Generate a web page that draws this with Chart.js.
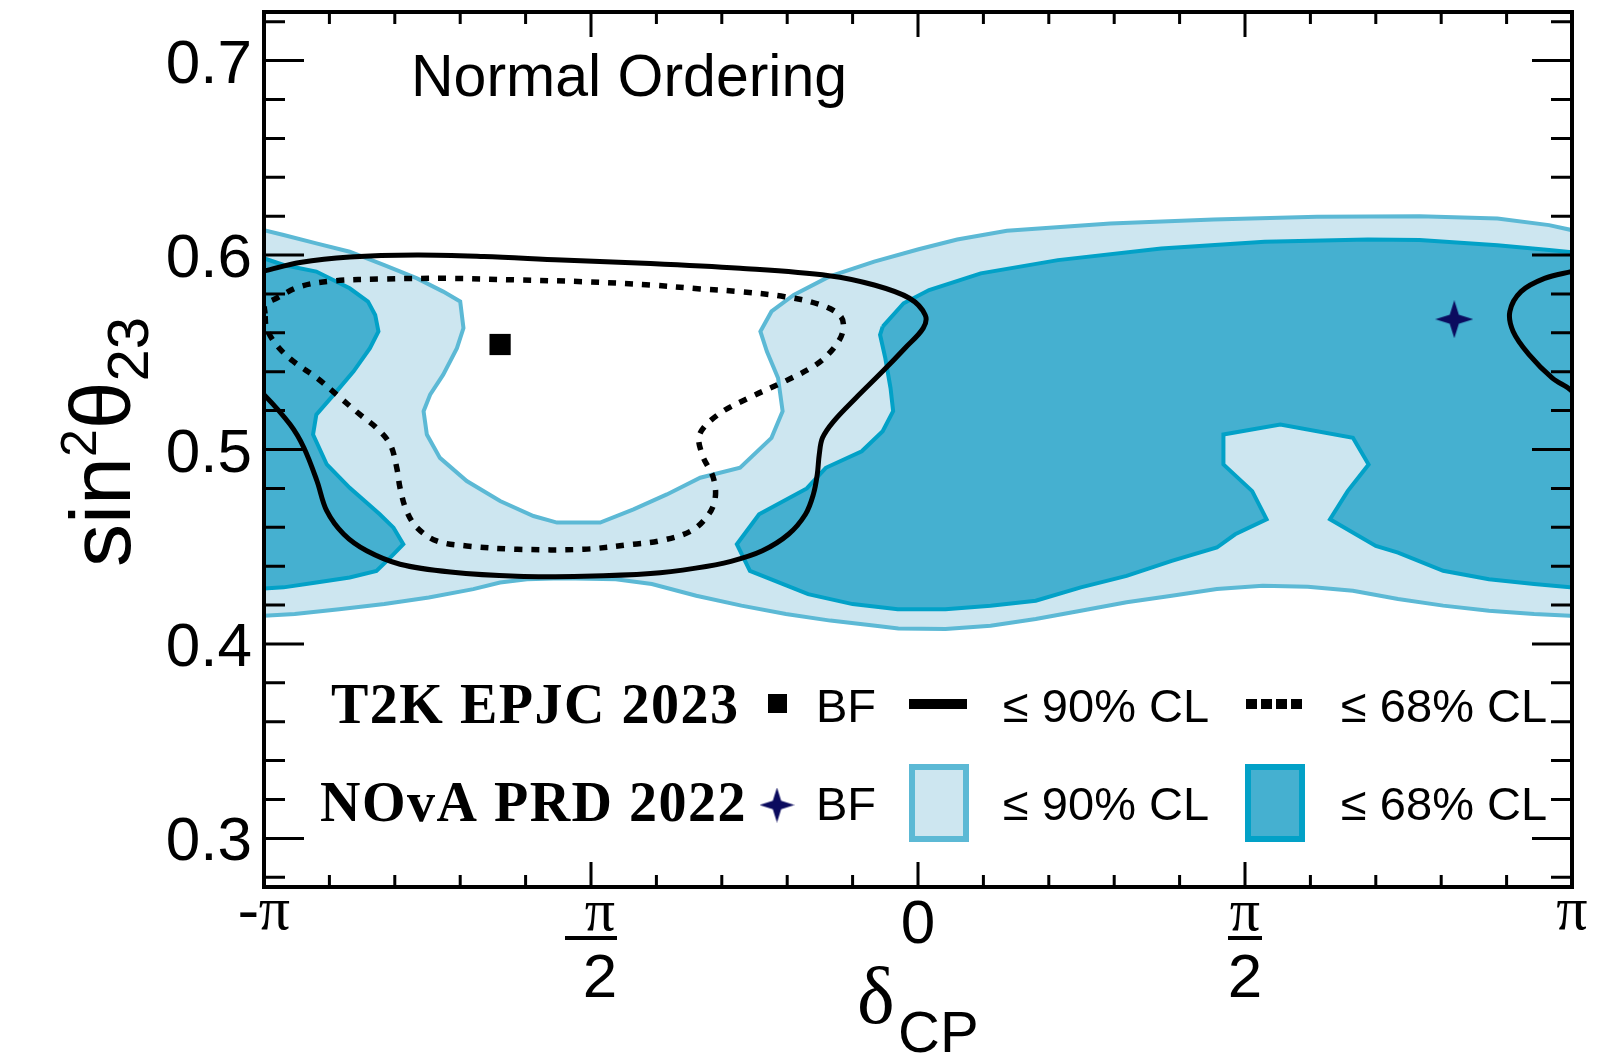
<!DOCTYPE html>
<html>
<head>
<meta charset="utf-8">
<script src="https://cdn.jsdelivr.net/npm/chart.js@4.4.1/dist/chart.umd.min.js"></script>
<style>
  html, body { margin: 0; padding: 0; background: #fff; }
  canvas { display: block; }
</style>
</head>
<body>
<canvas id="chart" width="1610" height="1060"></canvas>
<script>
// x = delta_CP in units of pi, y = sin^2(theta_23)
const xTickValues = [-1, -0.5, 0, 0.5, 1];
const xTickLabels = ['-π', '-π/2', '0', 'π/2', 'π'];
const yTickValues = [0.3, 0.4, 0.5, 0.6, 0.7];
const yTickLabels = ['0.3', '0.4', '0.5', '0.6', '0.7'];

const t2kBestFit  = [[-0.639, 0.554]];
const novaBestFit = [[0.82, 0.567]];

// T2K 90% CL (solid), wraps round at +-pi
const t2k90Left = [
  [-1.045, 0.5885], [-1.0, 0.5918], [-0.945, 0.5962], [-0.869, 0.599], [-0.766, 0.600],
  [-0.664, 0.5992], [-0.545, 0.5974], [-0.409, 0.5957], [-0.272, 0.5932], [-0.136, 0.5894],
  [-0.067, 0.5846], [-0.013, 0.5778], [0.011, 0.5692], [0.008, 0.5624], [-0.020, 0.5521],
  [-0.054, 0.5402], [-0.095, 0.5265], [-0.129, 0.5145], [-0.146, 0.506], [-0.151, 0.4974],
  [-0.154, 0.4872], [-0.160, 0.4769], [-0.172, 0.4667], [-0.198, 0.4564], [-0.238, 0.4479],
  [-0.286, 0.4425], [-0.340, 0.439], [-0.409, 0.4362], [-0.511, 0.4348], [-0.613, 0.4348],
  [-0.715, 0.437], [-0.792, 0.441], [-0.843, 0.4479], [-0.878, 0.4564], [-0.904, 0.4684],
  [-0.919, 0.4838], [-0.939, 0.5009], [-0.960, 0.5128], [-1.0, 0.5282], [-1.03, 0.537],
];
const t2k90Right = [
  [1.055, 0.5962], [1.0, 0.5916], [0.958, 0.588], [0.922, 0.5812], [0.905, 0.571],
  [0.910, 0.5607], [0.934, 0.5489], [0.970, 0.5367], [1.0, 0.530], [1.04, 0.5128],
];

// T2K 68% CL (dotted)
const t2k68 = [
  [-0.9985, 0.570], [-0.9985, 0.5744], [-0.981, 0.5778], [-0.945, 0.5838], [-0.894, 0.5867],
  [-0.817, 0.5877], [-0.715, 0.588], [-0.613, 0.5872], [-0.511, 0.5863], [-0.409, 0.5846],
  [-0.333, 0.5826], [-0.272, 0.5812], [-0.204, 0.5786], [-0.149, 0.5744], [-0.118, 0.5684],
  [-0.115, 0.5607], [-0.129, 0.5521], [-0.156, 0.5436], [-0.204, 0.535], [-0.259, 0.5265],
  [-0.306, 0.5179], [-0.334, 0.5077], [-0.330, 0.4974], [-0.313, 0.4855], [-0.310, 0.4752],
  [-0.320, 0.4667], [-0.347, 0.4581], [-0.395, 0.453], [-0.435, 0.4513], [-0.511, 0.4487],
  [-0.613, 0.4487], [-0.690, 0.4504], [-0.736, 0.453], [-0.766, 0.4598], [-0.782, 0.4684],
  [-0.792, 0.4803], [-0.797, 0.4906], [-0.807, 0.5026], [-0.828, 0.5111], [-0.853, 0.5179],
  [-0.889, 0.5282], [-0.919, 0.5368], [-0.955, 0.5453], [-0.981, 0.5538], [-0.996, 0.5624],
  [-0.9985, 0.570],
];

// NOvA 90% CL region
const nova90 = [
  [-1.05, 0.615], [-1.0, 0.6128], [-0.970, 0.6103], [-0.920, 0.606], [-0.869, 0.6017],
  [-0.817, 0.5949], [-0.766, 0.588], [-0.726, 0.5812], [-0.700, 0.5761], [-0.695, 0.5624],
  [-0.705, 0.5521], [-0.726, 0.5385], [-0.746, 0.5282], [-0.756, 0.5197], [-0.751, 0.5077],
  [-0.731, 0.4957], [-0.690, 0.4838], [-0.639, 0.4735], [-0.588, 0.4658], [-0.552, 0.4624],
  [-0.486, 0.4624], [-0.435, 0.4692], [-0.384, 0.4769], [-0.333, 0.4855], [-0.272, 0.4906],
  [-0.224, 0.506], [-0.207, 0.5197], [-0.214, 0.5368], [-0.231, 0.5504], [-0.241, 0.5607],
  [-0.224, 0.571], [-0.190, 0.5795], [-0.136, 0.5889], [-0.067, 0.5966], [0.001, 0.603],
  [0.060, 0.608], [0.136, 0.6125], [0.294, 0.6162], [0.452, 0.6183], [0.610, 0.6197],
  [0.767, 0.620], [0.886, 0.6188], [0.965, 0.6154], [1.0, 0.6128], [1.05, 0.610],
  [1.05, 0.414], [0.997, 0.4145], [0.942, 0.4154], [0.873, 0.4171], [0.803, 0.4197],
  [0.734, 0.4231], [0.665, 0.4274], [0.596, 0.4294], [0.527, 0.4299], [0.457, 0.4282],
  [0.388, 0.4248], [0.319, 0.4214], [0.249, 0.4171], [0.180, 0.4128], [0.111, 0.4094],
  [0.042, 0.4077], [-0.030, 0.408], [-0.065, 0.4094], [-0.134, 0.412], [-0.202, 0.4154],
  [-0.270, 0.4197], [-0.339, 0.4248], [-0.407, 0.4308], [-0.462, 0.4333], [-0.544, 0.4338],
  [-0.598, 0.4333], [-0.639, 0.4316], [-0.680, 0.4282], [-0.748, 0.4239], [-0.816, 0.4205],
  [-0.885, 0.4179], [-0.953, 0.4154], [-1.0, 0.4145], [-1.05, 0.414],
];

// NOvA 68% CL region: piece at the left edge and the main piece
const nova68Left = [
  [-1.05, 0.598], [-1.0, 0.5983], [-0.970, 0.5949], [-0.920, 0.5915], [-0.869, 0.5829],
  [-0.841, 0.5761], [-0.830, 0.5692], [-0.825, 0.5607], [-0.838, 0.5521], [-0.863, 0.5402],
  [-0.889, 0.5299], [-0.920, 0.5179], [-0.925, 0.5077], [-0.904, 0.4923], [-0.869, 0.4803],
  [-0.823, 0.4667], [-0.802, 0.4598], [-0.787, 0.4513], [-0.807, 0.4444], [-0.828, 0.4376],
  [-0.869, 0.4342], [-0.920, 0.4316], [-0.970, 0.4291], [-1.0, 0.4285], [-1.05, 0.4285],
];
const nova68Main = [
  [-0.054, 0.5632], [-0.022, 0.5752], [0.017, 0.582], [0.096, 0.5906], [0.214, 0.5974],
  [0.372, 0.6034], [0.530, 0.6068], [0.688, 0.608], [0.767, 0.6077], [0.886, 0.6051],
  [0.965, 0.6026], [1.0, 0.6015], [1.05, 0.600], [1.05, 0.4285], [0.997, 0.4291],
  [0.942, 0.4308], [0.873, 0.4333], [0.803, 0.4376], [0.734, 0.447], [0.700, 0.4504],
  [0.630, 0.4641], [0.657, 0.4786], [0.689, 0.4923], [0.665, 0.506], [0.554, 0.5128],
  [0.467, 0.5077], [0.467, 0.4923], [0.511, 0.4786], [0.533, 0.4641], [0.485, 0.4564],
  [0.457, 0.4496], [0.388, 0.4427], [0.319, 0.435], [0.249, 0.4291], [0.180, 0.4222],
  [0.111, 0.4197], [0.042, 0.4179], [-0.031, 0.4179], [-0.100, 0.4205], [-0.168, 0.4256],
  [-0.257, 0.4376], [-0.277, 0.4513], [-0.243, 0.4667], [-0.170, 0.480], [-0.141, 0.4906],
  [-0.086, 0.4991], [-0.054, 0.5094], [-0.038, 0.5197], [-0.042, 0.5316], [-0.050, 0.547],
  [-0.058, 0.559], [-0.054, 0.5632],
];

const LIGHT      = '#cde6f0';
const LIGHT_LINE = '#5cb9d5';
const DARK       = '#45b0d0';
const DARK_LINE  = '#02a1c7';
const STAR       = '#0b0b5e';

const SANS  = '"Liberation Sans", Arial, Helvetica, sans-serif';
const SERIF = '"Liberation Serif", "Times New Roman", serif';

function pts(arr) {
  return arr.map(([x, y]) => ({ x, y }));
}

function region(arr, fill, line, order) {
  return {
    data: pts(arr), backgroundColor: fill, borderColor: line, borderWidth: 4,
    fill: 'shape', tension: 0, pointRadius: 0, pointHitRadius: 0, clip: 0, order,
  };
}

function contour(arr, dash, width) {
  return {
    data: pts(arr), borderColor: '#000', borderWidth: width, borderDash: dash,
    fill: false, tension: 0.35, capBezierPoints: false, pointRadius: 0, pointHitRadius: 0,
    clip: 0, order: 1,
  };
}

function makeStar(size, color) {
  const c = document.createElement('canvas');
  c.width = c.height = size;
  const g = c.getContext('2d');
  const r = size / 2, k = size * 0.12;
  g.fillStyle = color;
  g.beginPath();
  g.moveTo(r, 0);
  g.lineTo(r + k, r - k);
  g.lineTo(size, r);
  g.lineTo(r + k, r + k);
  g.lineTo(r, size);
  g.lineTo(r - k, r + k);
  g.lineTo(0, r);
  g.lineTo(r - k, r - k);
  g.closePath();
  g.fill();
  return c;
}
const starImg = makeStar(38, STAR);
const starLegend = makeStar(35, STAR);

const drawFrame = {
  id: 'drawFrame',
  afterDatasetsDraw(chart) {
    const { ctx, chartArea: a, scales: { x, y } } = chart;
    ctx.save();
    ctx.strokeStyle = '#000';
    ctx.lineWidth = 3;
    ctx.beginPath();
    for (let i = -10; i <= 10; i++) {
      const px = x.getPixelForValue(i / 10);
      const len = i % 5 === 0 ? 25 : 12;
      ctx.moveTo(px, a.bottom); ctx.lineTo(px, a.bottom - len);
      ctx.moveTo(px, a.top);    ctx.lineTo(px, a.top + len);
    }
    for (let i = 14; i <= 36; i++) {
      const py = y.getPixelForValue(i / 50);
      const len = i % 5 === 0 ? 40 : 21;
      ctx.moveTo(a.left, py);  ctx.lineTo(a.left + len, py);
      ctx.moveTo(a.right, py); ctx.lineTo(a.right - len, py);
    }
    ctx.stroke();
    ctx.lineWidth = 4;
    ctx.strokeRect(a.left, a.top, a.right - a.left, a.bottom - a.top);
    ctx.restore();
  },
  afterDraw(chart) {
    const { ctx, chartArea: a, scales: { x, y } } = chart;
    ctx.save();
    ctx.fillStyle = '#000';

    // y tick labels
    ctx.font = '62px ' + SANS;
    ctx.textAlign = 'right';
    yTickValues.forEach((v, i) => {
      ctx.fillText(yTickLabels[i], a.left - 12, y.getPixelForValue(v) + 22);
    });

    // x tick labels
    ctx.textAlign = 'center';
    xTickValues.forEach((v, i) => {
      const px = x.getPixelForValue(v);
      const lab = xTickLabels[i];
      if (lab.includes('/')) {
        const neg = lab.startsWith('-');
        const cx = px + (neg ? 9 : 0);
        ctx.font = '60px ' + SERIF;
        ctx.fillText('π', cx, a.bottom + 43);
        ctx.fillRect(cx - 17 - (neg ? 18 : 0), a.bottom + 49, 34 + (neg ? 18 : 0), 4);
        ctx.font = '62px ' + SANS;
        ctx.fillText(lab.split('/')[1], cx, a.bottom + 110);
      } else if (lab === '0') {
        ctx.font = '62px ' + SANS;
        ctx.fillText(lab, px, a.bottom + 56);
      } else {
        ctx.font = '62px ' + SERIF;
        ctx.fillText(lab, px, a.bottom + 42);
      }
    });

    // x axis title
    ctx.textAlign = 'left';
    ctx.font = '80px ' + SERIF;
    ctx.fillText('δ', 857, 1023);
    ctx.font = '58px ' + SANS;
    ctx.fillText('CP', 898, 1052);

    // y axis title, rotated
    ctx.save();
    ctx.translate(130, 567);
    ctx.rotate(-Math.PI / 2);
    let u = 0;
    const part = (txt, font, dy) => {
      ctx.font = font;
      ctx.fillText(txt, u, dy);
      u += ctx.measureText(txt).width;
    };
    part('sin', '86px ' + SANS, 0);
    part('2', '50px ' + SANS, -34);
    part('θ', '86px ' + SANS, 0);
    part('23', '58px ' + SANS, 18);
    ctx.restore();

    // Normal Ordering
    ctx.font = '59px ' + SANS;
    ctx.fillText('Normal Ordering', 411, 96);

    // legend
    ctx.font = 'bold 56px ' + SERIF;
    ctx.letterSpacing = '1.5px';
    ctx.fillText('T2K EPJC 2023', 331, 723);
    ctx.fillText('NOvA PRD 2022', 320, 821);
    ctx.letterSpacing = '0px';

    ctx.fillRect(768, 694, 19, 19);
    ctx.drawImage(starLegend, 777 - 17.5, 805 - 17.5);

    ctx.font = '47px ' + SANS;
    ctx.fillText('BF', 816, 722);
    ctx.fillText('BF', 816, 820);
    ctx.fillText('≤ 90% CL', 1003, 722);
    ctx.fillText('≤ 68% CL', 1341, 722);
    ctx.fillText('≤ 90% CL', 1003, 820);
    ctx.fillText('≤ 68% CL', 1341, 820);

    ctx.strokeStyle = '#000';
    ctx.lineWidth = 10;
    ctx.beginPath();
    ctx.moveTo(909, 704); ctx.lineTo(967, 704);
    ctx.stroke();
    ctx.setLineDash([11, 4]);
    ctx.beginPath();
    ctx.moveTo(1246, 704); ctx.lineTo(1304, 704);
    ctx.stroke();
    ctx.setLineDash([]);

    ctx.lineWidth = 6;
    ctx.fillStyle = LIGHT; ctx.strokeStyle = LIGHT_LINE;
    ctx.fillRect(912, 767, 54, 72); ctx.strokeRect(912, 767, 54, 72);
    ctx.fillStyle = DARK; ctx.strokeStyle = DARK_LINE;
    ctx.fillRect(1248, 767, 54, 72); ctx.strokeRect(1248, 767, 54, 72);

    ctx.restore();
  },
};

new Chart(document.getElementById('chart'), {
  type: 'line',
  data: {
    datasets: [
      { data: pts(t2kBestFit), showLine: false, pointStyle: 'rect', pointRadius: 15,
        backgroundColor: '#000', borderWidth: 0, order: 0 },
      { data: pts(novaBestFit), showLine: false, pointStyle: starImg, pointRadius: 19,
        backgroundColor: STAR, borderWidth: 0, order: 0 },
      contour(t2k90Left, [], 5),
      contour(t2k90Right, [], 5),
      contour(t2k68, [8, 9], 5.5),
      region(nova68Main, DARK, DARK_LINE, 3),
      region(nova68Left, DARK, DARK_LINE, 3),
      region(nova90, LIGHT, LIGHT_LINE, 4),
    ],
  },
  options: {
    responsive: false,
    devicePixelRatio: 1,
    animation: false,
    layout: { autoPadding: false, padding: { left: 264, right: 38, top: 12, bottom: 173 } },
    plugins: { legend: { display: false }, tooltip: { enabled: false } },
    events: [],
    scales: {
      x: { type: 'linear', min: -1, max: 1, display: false },
      y: { type: 'linear', min: 0.275, max: 0.725, display: false },
    },
  },
  plugins: [drawFrame],
});
</script>
</body>
</html>
